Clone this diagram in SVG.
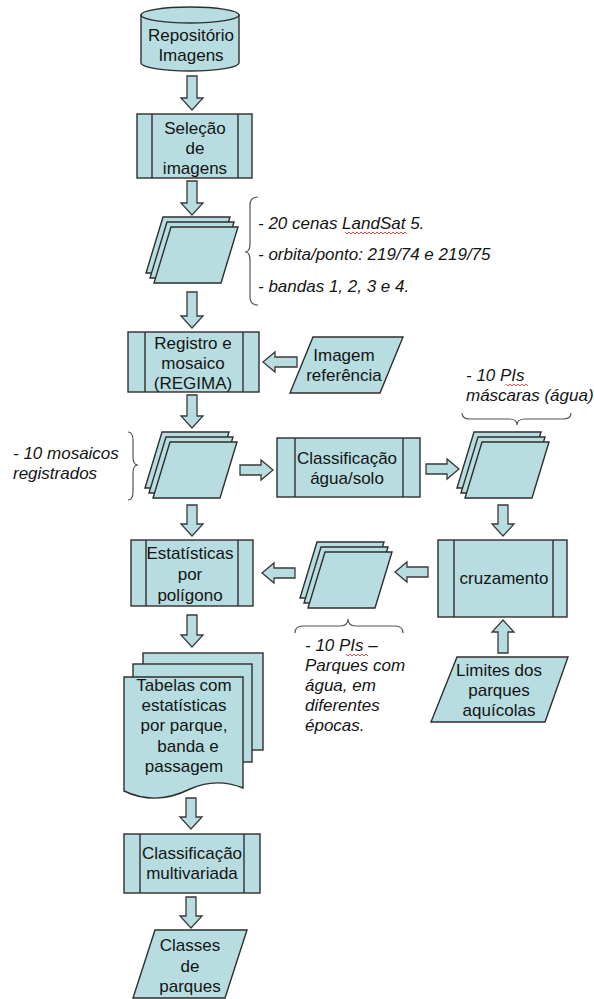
<svg xmlns="http://www.w3.org/2000/svg" width="594" height="999" viewBox="0 0 594 999">
  <style>
    .shape { fill: #b7dde0; stroke: #2e2e2e; stroke-width: 1.4; stroke-linejoin: miter; }
    .line { fill: none; stroke: #2e2e2e; stroke-width: 1.4; }
    .arrow { fill: #b7dde0; stroke: #3a3a3a; stroke-width: 1.3; }
    .brace { fill: none; stroke: #555; stroke-width: 1.2; }
    .squiggle { fill: none; stroke: #e02020; stroke-width: 0.8; }
    text { font-family: "Liberation Sans", Arial, sans-serif; font-size: 17px; fill: #141414; }
    .c { text-anchor: middle; }
    .note { font-style: italic; }
  </style>

  <!-- connectors: block arrows -->
  <g id="connectors">
    <!-- vertical, downward -->
    <path class="arrow" d="M187,76 H197 V98 H203 L192,110 L181,98 H187 Z"/>
    <path class="arrow" d="M187,181 H197 V203 H203 L192,215 L181,203 H187 Z"/>
    <path class="arrow" d="M187,292 H197 V316 H203 L192,328 L181,316 H187 Z"/>
    <path class="arrow" d="M187,395 H197 V416 H203 L192,428 L181,416 H187 Z"/>
    <path class="arrow" d="M187,505 H197 V524 H203 L192,536 L181,524 H187 Z"/>
    <path class="arrow" d="M187,615 H197 V635 H203 L192,647 L181,635 H187 Z"/>
    <path class="arrow" d="M186,798 H196 V817 H202 L191,829 L180,817 H186 Z"/>
    <path class="arrow" d="M186,897 H196 V916 H202 L191,928 L180,916 H186 Z"/>
    <path class="arrow" d="M498,505 H508 V524 H514 L503,536 L492,524 H498 Z"/>
    <!-- vertical, upward -->
    <path class="arrow" d="M498,653 H508 V632 H514 L503,620 L492,632 H498 Z"/>
    <!-- horizontal -->
    <path class="arrow" d="M297,357 V367 H275 V372 L263,362 L275,352 V357 Z"/>
    <path class="arrow" d="M240,465 V475 H261 V480 L273,470 L261,460 V465 Z"/>
    <path class="arrow" d="M426,464 V474 H447 V479 L459,469 L447,459 V464 Z"/>
    <path class="arrow" d="M295,568 V578 H274 V583 L262,573 L274,563 V568 Z"/>
    <path class="arrow" d="M428,567 V577 H407 V582 L395,572 L407,562 V567 Z"/>
  </g>

  <!-- image repository (cylinder) -->
  <g id="repositorio">
    <path class="shape" d="M141,15 V63 A49,8 0 0,0 239,63 V15 Z"/>
    <ellipse class="shape" cx="190" cy="15" rx="49" ry="8"/>
    <text class="c" x="191" y="41">Repositório</text>
    <text class="c" x="191" y="61">Imagens</text>
  </g>

  <!-- image selection process -->
  <g id="selecao">
    <rect class="shape" x="137" y="114" width="115" height="64"/>
    <line class="line" x1="152" y1="114" x2="152" y2="178"/>
    <line class="line" x1="238" y1="114" x2="238" y2="178"/>
    <text class="c" x="195" y="134">Seleção</text>
    <text class="c" x="195" y="154">de</text>
    <text class="c" x="195" y="174">imagens</text>
  </g>

  <!-- selected scenes (stacked data) -->
  <g id="cenas">
    <polygon class="shape" points="163,217 230,217 213,273 146,273"/>
    <polygon class="shape" points="167,222 234,222 217,278 150,278"/>
    <polygon class="shape" points="171,227 238,227 221,283 154,283"/>
  </g>
  <g id="cenas-nota">
    <path class="brace" d="M258,197 Q250,197 250,205 V244 Q250,252 245,252 Q250,252 250,260 V297 Q250,305 258,305"/>
    <text class="note" x="258" y="229">- 20 cenas LandSat 5.</text>
    <polyline class="squiggle" points="345,232 347,234 349,232 351,234 353,232 355,234 357,232 359,234 361,232 363,234 365,232 367,234 369,232 371,234 373,232 375,234 377,232 379,234 381,232 383,234 385,232 387,234 389,232 391,234 393,232 395,234 397,232 399,234 401,232 403,234 405,232 407,234"/>
    <text class="note" x="258" y="260">- orbita/ponto: 219/74 e 219/75</text>
    <text class="note" x="258" y="292">- bandas 1, 2, 3 e 4.</text>
  </g>

  <!-- registration and mosaic -->
  <g id="registro">
    <rect class="shape" x="128" y="332" width="131" height="60"/>
    <line class="line" x1="145" y1="332" x2="145" y2="392"/>
    <line class="line" x1="243" y1="332" x2="243" y2="392"/>
    <text class="c" x="193" y="349">Registro e</text>
    <text class="c" x="193" y="369">mosaico</text>
    <text class="c" x="193" y="389">(REGIMA)</text>
  </g>

  <!-- reference image -->
  <g id="referencia">
    <polygon class="shape" points="313,337 403,337 380,393 290,393"/>
    <text class="c" x="344" y="361">Imagem</text>
    <text class="c" x="344" y="381">referência</text>
  </g>

  <!-- registered mosaics -->
  <g id="mosaicos">
    <polygon class="shape" points="162,432 229,432 212,488 145,488"/>
    <polygon class="shape" points="166,437 233,437 216,493 149,493"/>
    <polygon class="shape" points="170,442 237,442 220,498 153,498"/>
  </g>
  <g id="mosaicos-nota">
    <path class="brace" d="M128,432 Q133,432 133,440 V457 Q133,465 138,465 Q133,465 133,473 V492 Q133,500 128,500"/>
    <text class="note" x="13" y="459">- 10 mosaicos</text>
    <text class="note" x="13" y="479">registrados</text>
  </g>

  <!-- water/soil classification -->
  <g id="classificacao">
    <rect class="shape" x="277" y="438" width="143" height="59"/>
    <line class="line" x1="295" y1="438" x2="295" y2="497"/>
    <line class="line" x1="403" y1="438" x2="403" y2="497"/>
    <text class="c" x="347" y="464">Classificação</text>
    <text class="c" x="347" y="484">água/solo</text>
  </g>

  <!-- water masks -->
  <g id="mascaras">
    <polygon class="shape" points="474,432 541,432 524,488 457,488"/>
    <polygon class="shape" points="478,437 545,437 528,493 461,493"/>
    <polygon class="shape" points="482,442 549,442 532,498 465,498"/>
  </g>
  <g id="mascaras-nota">
    <path class="brace" d="M462,413 Q462,419 470,419 H509 Q517,419 517,425 Q517,419 525,419 H563 Q571,419 571,413"/>
    <text class="note" x="466" y="381">- 10 PIs</text>
    <polyline class="squiggle" points="506,384 508,386 510,384 512,386 514,384 516,386 518,384 520,386 522,384 524,386 526,384 528,386"/>
    <text class="note" x="466" y="401">máscaras (água)</text>
  </g>

  <!-- statistics per polygon -->
  <g id="estatisticas">
    <rect class="shape" x="131" y="540" width="122" height="66"/>
    <line class="line" x1="146" y1="540" x2="146" y2="606"/>
    <line class="line" x1="238" y1="540" x2="238" y2="606"/>
    <text class="c" x="190" y="559">Estatísticas</text>
    <text class="c" x="190" y="580">por</text>
    <text class="c" x="190" y="601">polígono</text>
  </g>

  <!-- parks with water -->
  <g id="parques-agua">
    <polygon class="shape" points="317,542 384,542 367,598 300,598"/>
    <polygon class="shape" points="321,547 388,547 371,603 304,603"/>
    <polygon class="shape" points="325,552 392,552 375,608 308,608"/>
  </g>
  <g id="parques-agua-nota">
    <path class="brace" d="M295,633 Q295,626 303,626 H340 Q348,626 348,619 Q348,626 356,626 H395 Q403,626 403,633"/>
    <text class="note" x="305" y="651">- 10 PIs –</text>
    <polyline class="squiggle" points="346,654 348,656 350,654 352,656 354,654 356,656 358,654 360,656 362,654 364,656 366,654 368,656"/>
    <text class="note" x="305" y="671">Parques com</text>
    <text class="note" x="305" y="691">água, em</text>
    <text class="note" x="305" y="711">diferentes</text>
    <text class="note" x="305" y="731">épocas.</text>
  </g>

  <!-- overlay -->
  <g id="cruzamento">
    <rect class="shape" x="438" y="540" width="129" height="77"/>
    <line class="line" x1="454" y1="540" x2="454" y2="617"/>
    <line class="line" x1="553" y1="540" x2="553" y2="617"/>
    <text class="c" x="504" y="584">cruzamento</text>
  </g>

  <!-- park boundaries -->
  <g id="limites">
    <polygon class="shape" points="457,657 568,657 545,722 431,722"/>
    <text class="c" x="499" y="676">Limites dos</text>
    <text class="c" x="499" y="696">parques</text>
    <text class="c" x="499" y="716">aquícolas</text>
  </g>

  <!-- statistics tables (multiple documents) -->
  <g id="tabelas">
    <rect class="shape" x="143" y="653" width="120" height="97"/>
    <rect class="shape" x="133" y="664" width="119" height="98"/>
    <path class="shape" d="M124,677 H243 V788 C228,782 210,780 190,789 C168,800 145,801 124,791 Z"/>
    <text class="c" x="184" y="691">Tabelas com</text>
    <text class="c" x="184" y="711">estatísticas</text>
    <text class="c" x="184" y="731">por parque,</text>
    <text class="c" x="188" y="752">banda e</text>
    <text class="c" x="184" y="772">passagem</text>
  </g>

  <!-- multivariate classification -->
  <g id="multivariada">
    <rect class="shape" x="124" y="834" width="136" height="59"/>
    <line class="line" x1="140" y1="834" x2="140" y2="893"/>
    <line class="line" x1="244" y1="834" x2="244" y2="893"/>
    <text class="c" x="192" y="859">Classificação</text>
    <text class="c" x="192" y="879">multivariada</text>
  </g>

  <!-- park classes -->
  <g id="classes">
    <polygon class="shape" points="155,930 247,930 225,998 133,998"/>
    <text class="c" x="190" y="951">Classes</text>
    <text class="c" x="190" y="972">de</text>
    <text class="c" x="190" y="992">parques</text>
  </g>
</svg>
